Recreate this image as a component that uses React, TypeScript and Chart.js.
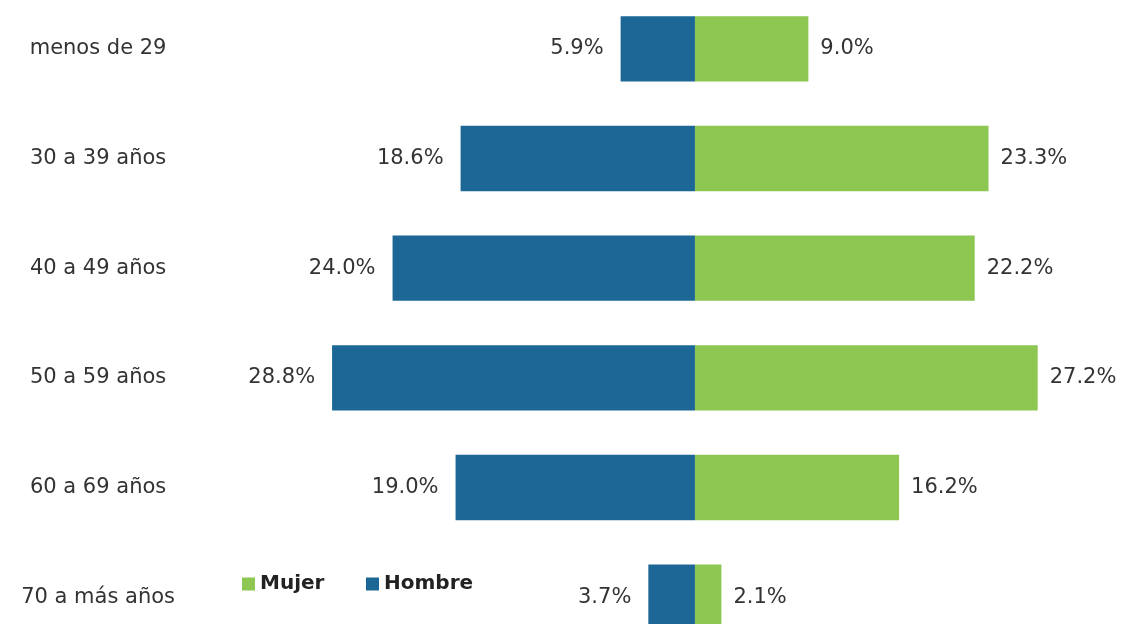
import React, { useEffect, useRef } from "react";
import { Chart, registerables } from "chart.js";

Chart.register(...registerables);

const categories = [
  "menos de 29",
  "30 a 39 años",
  "40 a 49 años",
  "50 a 59 años",
  "60 a 69 años",
  "70 a más años",
];
const hombreValues = [5.9, 18.6, 24.0, 28.8, 19.0, 3.7];
const mujerValues = [9.0, 23.3, 22.2, 27.2, 16.2, 2.1];
const seriesLabels = ["Mujer", "Hombre"];

const BLUE = "#1d6796";
const GREEN = "#8dc651";
const TEXT = "#333333";
const FONT = "'DejaVu Sans', sans-serif";

const valueLabelPlugin = {
  id: "valueLabels",
  afterDatasetsDraw(chart: any) {
    const ctx = chart.ctx;
    ctx.save();
    ctx.font = `21px ${FONT}`;
    ctx.fillStyle = TEXT;
    ctx.textBaseline = "middle";
    chart.data.datasets.forEach((ds: any, di: number) => {
      const meta = chart.getDatasetMeta(di);
      meta.data.forEach((bar: any, i: number) => {
        const v = ds.data[i];
        const txt = Math.abs(v).toFixed(1) + "%";
        if (v >= 0) {
          ctx.textAlign = "left";
          ctx.fillText(txt, bar.x + 12, bar.y);
        } else {
          ctx.textAlign = "right";
          ctx.fillText(txt, bar.x - 17, bar.y);
        }
      });
    });
    ctx.restore();
  },
};

const customLegendPlugin = {
  id: "customLegend",
  afterDraw(chart: any, _args: any, opts: any) {
    const ctx = chart.ctx;
    ctx.save();
    ctx.font = `bold 20px ${FONT}`;
    ctx.textBaseline = "middle";
    ctx.textAlign = "left";
    const items: { x: number; label: string; color: string }[] = opts.items;
    items.forEach((it) => {
      ctx.fillStyle = it.color;
      ctx.fillRect(it.x, opts.y - 6.5, 13, 13);
      ctx.fillStyle = "#222";
      ctx.fillText(it.label, it.x + 18, opts.y);
    });
    ctx.restore();
  },
};

export default function App() {
  const canvasRef = useRef<HTMLCanvasElement | null>(null);

  useEffect(() => {
    if (!canvasRef.current) return;
    const chart = new Chart(canvasRef.current, {
      type: "bar",
      data: {
        labels: categories,
        datasets: [
          {
            label: seriesLabels[0],
            data: mujerValues,
            backgroundColor: GREEN,
            borderWidth: 0,
            categoryPercentage: 1,
            barPercentage: 0.595,
          },
          {
            label: seriesLabels[1],
            data: hombreValues.map((v) => -v),
            backgroundColor: BLUE,
            borderWidth: 0,
            categoryPercentage: 1,
            barPercentage: 0.595,
          },
        ],
      },
      options: {
        indexAxis: "y",
        animation: false,
        responsive: true,
        maintainAspectRatio: false,
        layout: { padding: 0 },
        font: { family: FONT },
        scales: {
          x: {
            type: "linear",
            stacked: true,
            min: -40.87,
            max: 34.13,
            display: false,
          },
          y: {
            type: "category",
            stacked: true,
            offset: true,
            grid: { display: false },
            border: { display: false },
            ticks: {
              crossAlign: "center",
              padding: -3,
              color: TEXT,
              font: { family: FONT, size: 21 },
            },
            afterFit: (s: any) => {
              s.width = 180;
              s.paddingTop = 0;
              s.paddingBottom = 0;
            },
          },
        },
        plugins: {
          legend: { display: false },
          tooltip: { enabled: false },
          customLegend: {
            y: 590,
            items: [
              { x: 242, label: seriesLabels[0], color: GREEN },
              { x: 366, label: seriesLabels[1], color: BLUE },
            ],
          },
        } as any,
      },
      plugins: [valueLabelPlugin, customLegendPlugin],
    });
    return () => chart.destroy();
  }, []);

  return (
    <div
      style={{
        position: "fixed",
        left: 0,
        top: 0,
        width: 1125,
        height: 624,
        overflow: "hidden",
        background: "#fff",
      }}
    >
      <div
        style={{
          position: "absolute",
          left: 0,
          top: -6,
          width: 1125,
          height: 658,
        }}
      >
        <canvas ref={canvasRef} />
      </div>
    </div>
  );
}
